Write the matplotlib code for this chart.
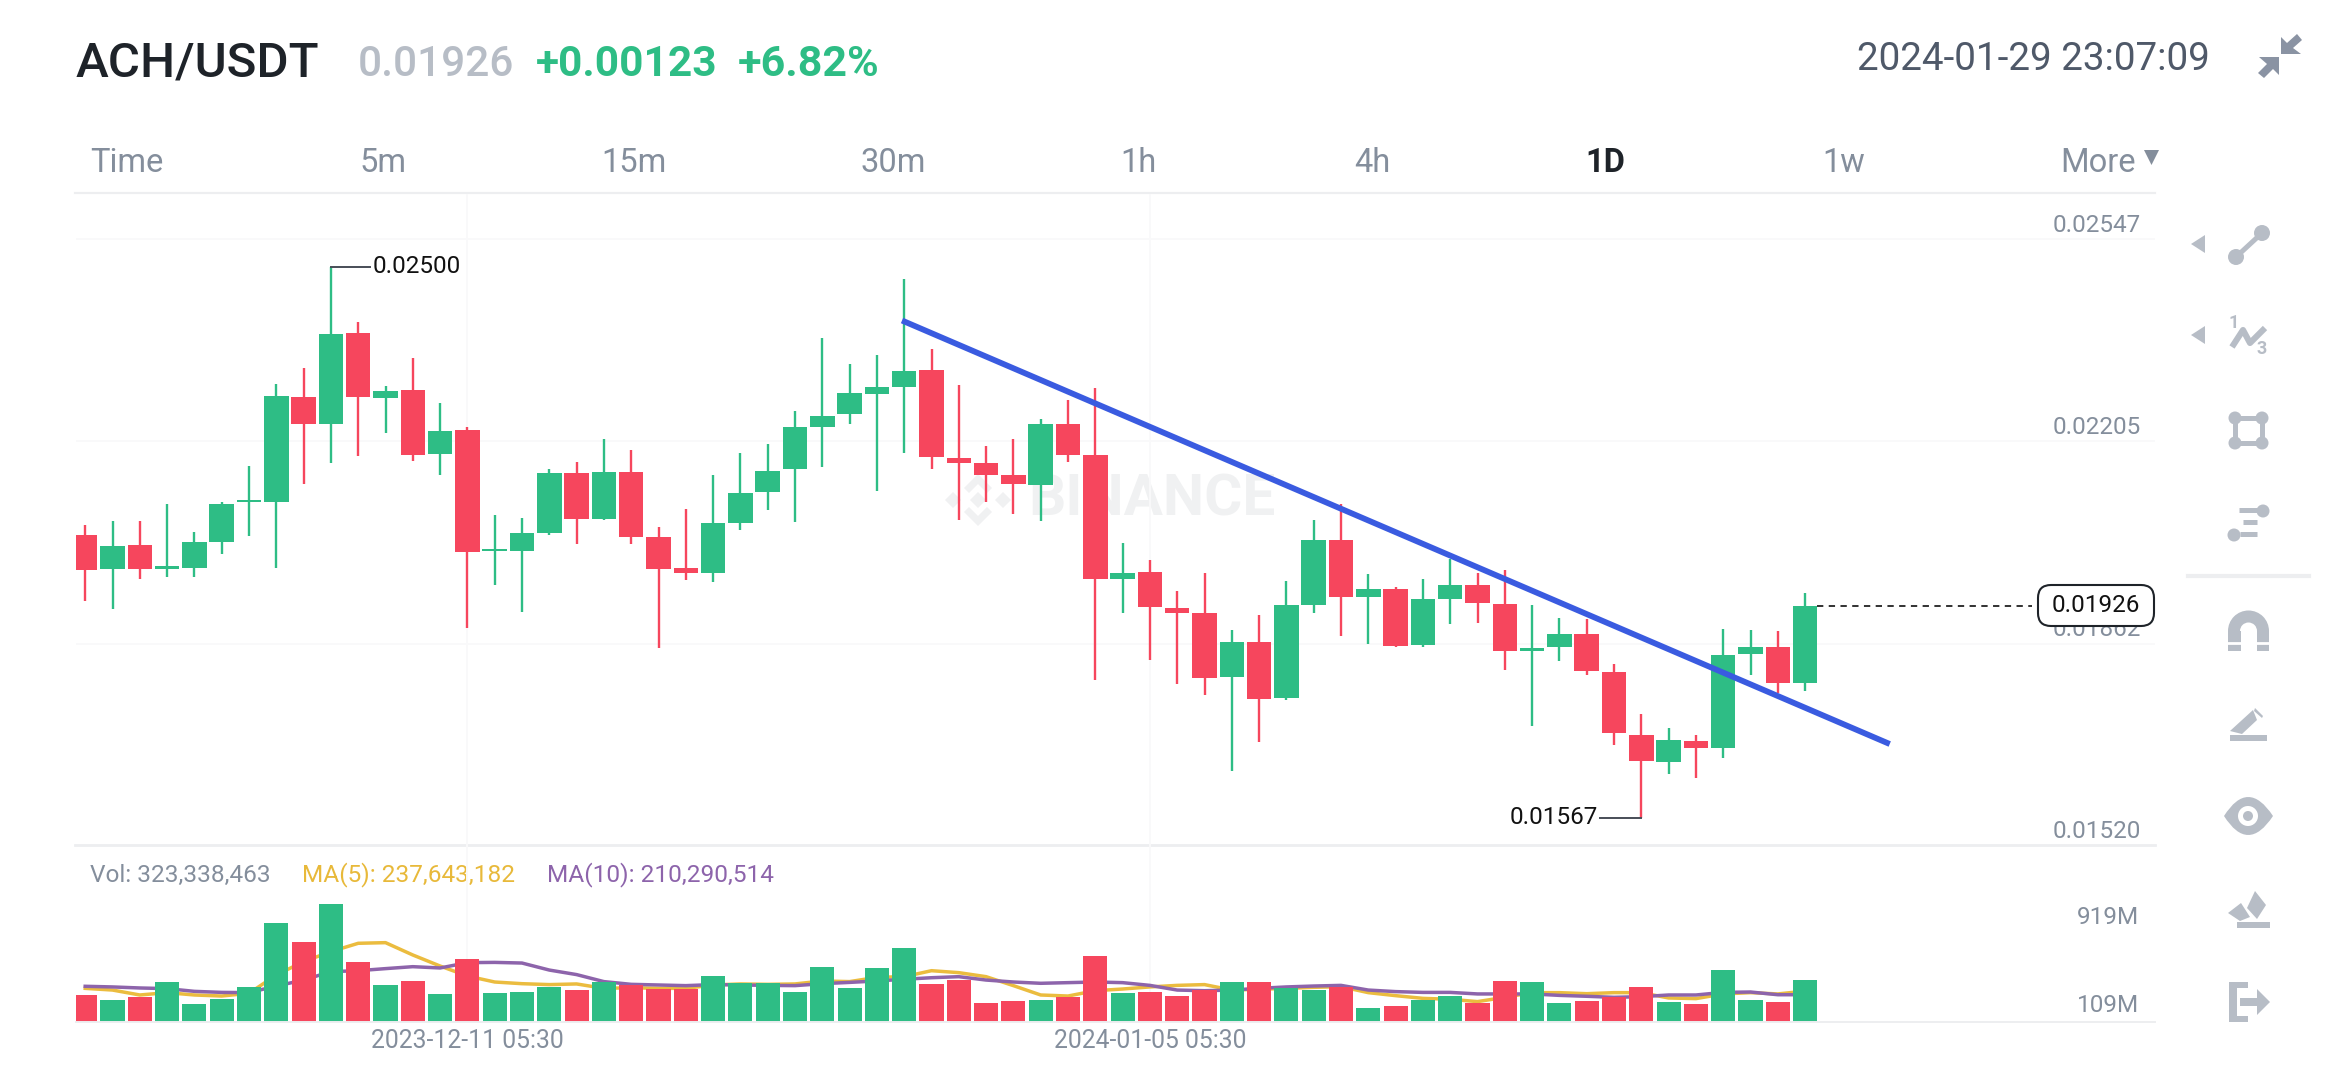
#ACH/USDT daily candles, Binance app screenshot
import numpy as np
import matplotlib
matplotlib.use("Agg")
import matplotlib.pyplot as plt
from matplotlib.patches import Polygon, Circle, Wedge, Rectangle, FancyBboxPatch, PathPatch
from matplotlib.path import Path

plt.rcParams['font.family'] = ['Roboto', 'DejaVu Sans']

#prices, in units of 0.00001
opens = [2046,1989,2029,1988,1990,2034,2101,2101,2279,2234,2388,2277,2291,2183,2224,2019,
         2019,2050,2150,2073,2152,2043,1990,1982,2067,2119,2158,2229,2250,2285,2297,2325,
         2177,2168,2147,2130,2234,2181,1971,1983,1923,1913,1806,1865,1770,1928,2037,1941,
         1955,1860,1938,1962,1929,1849,1856,1878,1814,1708,1662,1697,1686,1845,1856,1795]
highs = [2063,2070,2070,2099,2051,2102,2163,2301,2329,2500,2406,2298,2345,2270,2228,2080,
         2075,2158,2170,2208,2190,2059,2090,2147,2185,2200,2255,2379,2336,2350,2479,2360,
         2300,2196,2208,2243,2274,2294,2033,2003,1951,1981,1885,1911,1968,2071,2099,1979,
         1958,1972,2006,1981,1987,1927,1905,1903,1827,1743,1719,1707,1887,1885,1883,1948]
lows = [1934,1921,1971,1975,1974,2014,2045,1990,2133,2167,2180,2218,2172,2148,1889,1962,
        1916,2046,2031,2072,2031,1855,1970,1966,2054,2089,2068,2161,2234,2121,2185,2158,
        2072,2102,2081,2070,2169,1801,1913,1834,1793,1775,1646,1696,1766,1913,1875,1861,
        1856,1857,1896,1897,1817,1722,1833,1809,1690,1567,1641,1634,1669,1809,1778,1782]
closes = [1986,2028,1989,1993,2034,2099,2105,2281,2234,2386,2279,2290,2182,2222,2017,2023,
          2049,2151,2073,2152,2042,1989,1981,2066,2117,2155,2229,2248,2286,2297,2323,2178,
          2168,2147,2133,2234,2182,1972,1982,1924,1913,1804,1864,1768,1927,2038,1941,1954,
          1858,1938,1962,1930,1849,1855,1878,1815,1710,1663,1698,1686,1843,1856,1796,1926]

#volume in millions
volumes = [208,169,195,308,136,180,267,762,616,909,465,285,313,218,488,223,
           231,267,246,308,282,252,252,352,300,300,231,426,262,413,570,295,
           326,144,162,169,195,511,223,228,198,249,305,305,259,249,267,108,
           123,167,200,149,313,305,149,159,190,270,151,139,403,169,151,323]
ma5 = [259,246,208,226,208,200,221,362,465,542,606,611,516,431,354,308,
       295,288,293,259,264,259,259,285,293,290,293,316,311,344,349,395,
       380,349,280,208,200,241,254,270,282,288,246,252,259,267,272,226,
       203,182,175,157,190,226,226,218,226,226,185,180,216,226,216,238]
ma10 = [275,270,262,257,236,228,226,277,323,388,395,411,426,416,457,459,
        454,400,365,311,290,285,280,288,285,282,280,295,305,316,329,341,
        349,323,308,298,303,308,303,282,246,241,246,259,270,277,282,246,
        234,228,228,216,216,216,205,198,190,195,208,208,228,231,210,210]

price_ticks = [2547, 2205, 1862, 1520]
price_labels = ['0.02547', '0.02205', '0.01862', '0.01520']
date_ticks = [14, 39]
date_labels = ['2023-12-11 05:30', '2024-01-05 05:30']
tabs = ['Time', '5m', '15m', '30m', '1h', '4h', '1w']
tab_x = [127, 383, 634, 893, 1138, 1372, 1844]
trend_x = [29.92, 66.1]
trend_y = [2409, 1692]
last_price = 1926
high_idx, low_idx = 9, 57

GREEN = '#2EBD85'
RED = '#F6465D'
GRAY = '#848E9C'
ICON = '#B7BDC6'
LINE = '#EDEEF0'
FAINT = '#F9F9FA'

W, H = 2340, 1080
step = 27.3
x0 = 85.2
left, right = 76, 2155
xlim = ((left - x0) / step, (right - x0) / step)

def axes_px(l, t, r, b):
    return [l / W, 1 - b / H, (r - l) / W, (b - t) / H]

fig = plt.figure(figsize=(W / 100, H / 100), dpi=100, facecolor='white')

#page chrome in pixel coordinates, under the chart axes
ui = fig.add_axes([0, 0, 1, 1], zorder=0)
ui.set_xlim(0, W)
ui.set_ylim(H, 0)
ui.axis('off')

ax = fig.add_axes(axes_px(left, 194, right, 845), zorder=2)
ax.patch.set_alpha(0)
vol = fig.add_axes(axes_px(left, 845, right, 1022), zorder=2)
vol.patch.set_alpha(0)

#price panel
xs = np.arange(len(opens))
o, h, l, c = map(np.array, (opens, highs, lows, closes))
colors = [GREEN if cc > oo else RED for oo, cc in zip(o, c)]
for y in price_ticks:
    ax.axhline(y, color=FAINT, lw=1.4, zorder=0)
for x in date_ticks:
    ax.axvline(x, color=FAINT, lw=1.4, zorder=0)
    vol.axvline(x, color=FAINT, lw=1.4, zorder=0)
ax.vlines(xs, l, h, colors=colors, lw=1.7, zorder=2)
ax.bar(xs, np.maximum(np.abs(c - o), 4), bottom=np.minimum(o, c), width=0.9, color=colors, zorder=3)
ax.plot(trend_x, trend_y, color='#3A5BE0', lw=4.2, solid_capstyle='butt', zorder=4, clip_on=False)
ax.set_xlim(xlim)
ax.set_ylim(2547 - (845 - 239) * 1.693, 2547 + (239 - 194) * 1.693)
ax.axis('off')

for y, lab in zip(price_ticks, price_labels):
    ax.annotate(lab, xy=(xlim[1], y), xytext=(-14, 14), xycoords='data', textcoords='offset pixels',
                ha='right', va='center', color=GRAY, fontsize=17.5, zorder=1, annotation_clip=False)

#high and low markers
ax.plot([high_idx, high_idx + 1.43], [highs[high_idx]] * 2, color='#474D57', lw=1.4, zorder=2)
ax.annotate('0.02500', xy=(high_idx + 1.43, highs[high_idx]), xytext=(3, 0), textcoords='offset pixels',
            ha='left', va='center', color='#111111', fontsize=17.5)
ax.plot([low_idx - 1.5, low_idx], [lows[low_idx]] * 2, color='#474D57', lw=1.4, zorder=2)
ax.annotate('0.01567', xy=(low_idx - 1.5, lows[low_idx]), xytext=(-2, 0), textcoords='offset pixels',
            ha='right', va='center', color='#111111', fontsize=17.5)

#last price line and box
ax.plot([63.45, 71.3], [last_price, last_price], color='#222222', lw=1.3, dashes=(3.5, 3), zorder=2)
box = FancyBboxPatch((2038, 585), 116, 41, boxstyle='round,pad=0,rounding_size=13',
                     fc='white', ec='#1E2329', lw=1.5, zorder=5)
box.set_transform(ui.transData)
box.set_clip_on(False)
ax.add_artist(box)
ax.text(2096, 606, '0.01926', transform=ui.transData, ha='center', va='center',
        color='#111111', fontsize=17.5, zorder=6)

#volume panel
vol.bar(xs, volumes, width=0.88, color=colors, zorder=2)
vol.plot(xs, ma5, color='#EBBC3F', lw=2.5, zorder=1)
vol.plot(xs, ma10, color='#8D64AB', lw=2.5, zorder=1)
vol.set_xlim(xlim)
vol.set_ylim(0, 177 * 7.7)
vol.set_xticks(date_ticks)
vol.set_xticklabels(date_labels, fontsize=17.8, color=GRAY)
vol.tick_params(axis='x', length=0, pad=5)
vol.set_yticks([])
for s in ['top', 'left', 'right']:
    vol.spines[s].set_visible(False)
vol.spines['bottom'].set_color(LINE)
vol.spines['bottom'].set_linewidth(1.4)

#header
ui.text(76, 77, 'ACH/USDT', fontsize=35.5, color='#1E2329', fontweight='medium', va='baseline')
ui.text(358, 76, '0.01926', fontsize=30.5, color=ICON, fontweight='medium', va='baseline')
ui.text(536, 76, '+0.00123', fontsize=30.5, color=GREEN, fontweight='bold', va='baseline')
ui.text(738, 76, '+6.82%', fontsize=31, color=GREEN, fontweight='bold', va='baseline')
ui.text(1857, 70, '2024-01-29 23:07:09', fontsize=27.8, color='#4F5969', va='baseline')

#timeframe tabs
for name, x in zip(tabs, tab_x):
    ui.text(x, 172, name, fontsize=23.5, color=GRAY, ha='center', va='baseline')
ui.text(1605, 172, '1D', fontsize=23.5, color='#1E2329', fontweight='bold', ha='center', va='baseline')
ui.text(2060, 172, 'More', fontsize=23.5, color=GRAY, va='baseline')
ui.add_patch(Polygon([(2144, 150), (2159, 150), (2151.5, 165)], fc=GRAY, ec='none'))
ui.plot([75, right], [193, 193], color=LINE, lw=1.6)
ui.plot([75, right], [845, 845], color=LINE, lw=2)

#volume legend and scale
ui.text(90, 875, 'Vol: 323,338,463', fontsize=17.6, color=GRAY, va='center')
ui.text(302, 875, 'MA(5): 237,643,182', fontsize=17.6, color='#E8B93A', va='center')
ui.text(547, 875, 'MA(10): 210,290,514', fontsize=17.6, color='#8D64AB', va='center')
ui.text(2139, 918, '919M', fontsize=17.5, color=GRAY, ha='right', va='center')
ui.text(2139, 1006, '109M', fontsize=17.5, color=GRAY, ha='right', va='center')

#watermark
ui.text(1028, 516, 'BINANCE', fontsize=42, color='#F0F1F2', fontweight='bold', va='baseline')
for pts in ([(978, 474), (992, 488), (987, 493), (978, 484), (969, 493), (964, 488)],
            [(978, 526), (992, 512), (987, 507), (978, 516), (969, 507), (964, 512)],
            [(945, 500), (953, 492), (961, 500), (953, 508)],
            [(995, 500), (1003, 492), (1011, 500), (1003, 508)],
            [(978, 492), (986, 500), (978, 508), (970, 500)]):
    ui.add_patch(Polygon(pts, fc='#F0F1F2', ec='none'))

#collapse icon
ui.add_patch(Polygon([(2281, 54), (2281, 37), (2287, 43), (2297, 34), (2302, 40), (2293, 48), (2301, 54)], fc='#8A93A3', ec='none'))
ui.add_patch(Polygon([(2279, 57), (2279, 75), (2273, 69), (2264, 78), (2258, 73), (2267, 64), (2259, 57)], fc='#8A93A3', ec='none'))

#drawing tool icons
def icon_line(x, y, lw=3.2):
    ui.plot(x, y, color=ICON, lw=lw, solid_capstyle='butt')

def dot(x, y, r=7):
    ui.add_patch(Circle((x, y), r, fc=ICON, ec='none'))

for yy in (244, 335):
    ui.add_patch(Polygon([(2191, yy), (2205, yy - 9), (2205, yy + 9)], fc=ICON, ec='none'))
icon_line([2236, 2262], [257, 233], 3.6)
dot(2236, 257, 8)
dot(2262, 233, 8)

icon_line([2232, 2243, 2250, 2265], [347, 330, 343, 328], 4.4)
ui.text(2234, 323, '1', fontsize=13, color=ICON, fontweight='bold', ha='center', va='center')
ui.text(2262, 349, '3', fontsize=13, color=ICON, fontweight='bold', ha='center', va='center')

icon_line([2235, 2262, 2262, 2235, 2235], [418, 418, 443, 443, 418], 3.6)
for px, py in [(2235, 418), (2262, 418), (2235, 443), (2262, 443)]:
    dot(px, py, 6.5)

icon_line([2239, 2262], [510, 510], 3.6)
icon_line([2243, 2257], [522, 522], 3.6)
icon_line([2240, 2257], [534, 534], 3.6)
dot(2263, 511, 6.5)
dot(2234, 535, 6.5)

ui.plot([2188, 2309], [576, 576], color=LINE, lw=3)

#magnet
ui.add_patch(Wedge((2248.5, 631), 20.5, 180, 360, width=12, fc=ICON, ec='none'))
ui.add_patch(Rectangle((2228, 631), 12.5, 20, fc=ICON, ec='none'))
ui.add_patch(Rectangle((2256.5, 631), 12.5, 20, fc=ICON, ec='none'))
ui.plot([2226, 2271], [643, 643], color='white', lw=2)

#pencil
ui.add_patch(Polygon([(2230, 731), (2253, 710), (2257, 720), (2242, 734)], fc=ICON, ec='none'))
ui.add_patch(Polygon([(2255, 708), (2263, 716), (2262, 718), (2254, 711)], fc=ICON, ec='none'))
ui.add_patch(Rectangle((2230, 735), 37, 6, fc=ICON, ec='none'))

#eye
eye = Path([(2224, 816), (2248, 778), (2273, 816), (2248, 854), (2224, 816)],
           [Path.MOVETO, Path.CURVE3, Path.CURVE3, Path.CURVE3, Path.CURVE3])
ui.add_patch(PathPatch(eye, fc=ICON, ec='none'))
ui.add_patch(Circle((2248, 816), 10, fc='white', ec='none'))
ui.add_patch(Circle((2248, 816), 5, fc=ICON, ec='none'))

#eraser
ui.add_patch(Polygon([(2247, 908), (2255, 891), (2266, 905), (2257, 919)], fc=ICON, ec='none'))
ui.add_patch(Polygon([(2228, 913), (2241, 903), (2250, 917), (2240, 921)], fc=ICON, ec='none'))
ui.add_patch(Rectangle((2237, 922), 33, 6, fc=ICON, ec='none'))

#exit
ui.add_patch(Polygon([(2229, 982), (2248, 982), (2248, 988), (2237, 988), (2237, 1016), (2248, 1016),
                      (2248, 1022), (2229, 1022)], fc=ICON, ec='none'))
ui.add_patch(Polygon([(2240, 998), (2257, 998), (2257, 989), (2270, 1002), (2257, 1015), (2257, 1006), (2240, 1006)],
                     fc=ICON, ec='none'))

fig.savefig('out.png', dpi=100)
